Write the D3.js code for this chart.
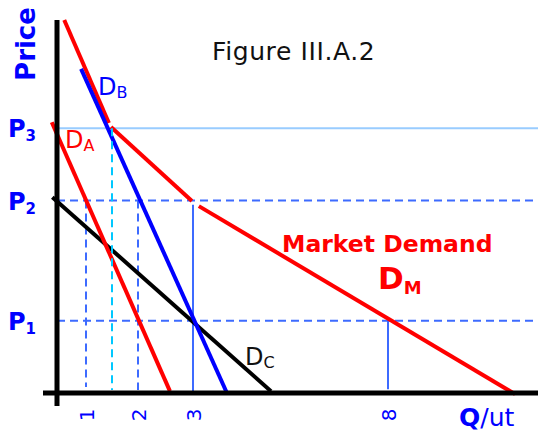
<!DOCTYPE html>
<html>
<head>
<meta charset="utf-8">
<script src="https://cdn.jsdelivr.net/npm/d3@7"></script>
<style>
  html, body { margin: 0; padding: 0; background: #fff; }
  svg { display: block; }
</style>
</head>
<body>
<div id="chart"></div>
<script>
// ---------- DATA ----------
const title = "Figure III.A.2";
const xTickValues = [1, 2, 3, 8];              // labelled quantities
const quantityBreaks = [0, 1, 2, 3, 8];       // schematic (non-uniform) quantity axis
const priceLabels = ["P1", "P2", "P3"];
const priceValues = [1.94, 5.16, 7.10];
const xMaxQ = 11.85;
const yMaxP = 10;

// individual demand curves: [quantity, price] endpoints
const demandA = [[-0.18, 7.26], [2.58, 0.05]];
const demandB = [[0.83, 8.69], [3.87, 0.0]];
const demandC = [[-0.16, 5.25], [5.0, 0.05]];
// market demand, drawn as three kinked segments
const marketDemand = [
  [[0.25, 10.0], [1.44, 7.24]],
  [[1.48, 7.13], [2.98, 5.15]],
  [[3.15, 5.01], [11.26, -0.03]]
];
// vertical guides: quantity, top price, bottom price, kind
const verticalGuides = [
  {q: 1,   top: 5.16, bottom: 0.16, kind: "dash"},
  {q: 2,   top: 5.16, bottom: 0.08, kind: "dash"},
  {q: 3,   top: 5.05, bottom: 0.0,  kind: "solid"},
  {q: 8,   top: 1.94, bottom: 0.10, kind: "solid"}
];
const cyanGuide = {q: 1.5, top: 7.10, bottom: 0.08};

// ---------- LAYOUT ----------
const W = 538, H = 433;
const svg = d3.select("#chart").append("svg").attr("width", W).attr("height", H);

const x = d3.scaleLinear().domain(quantityBreaks).range([57, 86, 138, 193, 388]);
const y = d3.scaleLinear().domain([0, yMaxP]).range([393, 20]);

const BLUE = "#0000ff", RED = "#ff0000", GUIDE = "#3d6bff", CYAN = "#00c8ff", LIGHT = "#99ccff";
const line = d3.line().x(d => x(d[0])).y(d => y(d[1]));

// horizontal guides
const hg = svg.append("g");
priceValues.forEach((p, i) => {
  const isTop = i === 2;
  hg.append("path")
    .attr("d", line([[0, p], [xMaxQ, p]]))
    .attr("stroke", isTop ? LIGHT : GUIDE)
    .attr("stroke-width", 2)
    .attr("stroke-dasharray", isTop ? null : "8,5")
    .attr("fill", "none");
});
// vertical guides
verticalGuides.forEach(g => {
  hg.append("path")
    .attr("d", line([[g.q, g.top], [g.q, g.bottom]]))
    .attr("stroke", GUIDE)
    .attr("stroke-width", 2)
    .attr("stroke-dasharray", g.kind === "dash" ? "8,5" : null)
    .attr("fill", "none");
});

// demand curves
const curves = svg.append("g").attr("fill", "none").attr("stroke-width", 4).attr("stroke-linecap", "butt");
curves.append("path").attr("d", line(demandC)).attr("stroke", "#000");
curves.append("path").attr("d", line(demandA)).attr("stroke", RED);
marketDemand.forEach(seg => curves.append("path").attr("d", line(seg)).attr("stroke", RED));
curves.append("path").attr("d", line(demandB)).attr("stroke", BLUE);

// cyan guide on top
svg.append("path")
  .attr("d", line([[cyanGuide.q, cyanGuide.top], [cyanGuide.q, cyanGuide.bottom]]))
  .attr("stroke", CYAN).attr("stroke-width", 2).attr("stroke-dasharray", "8,5").attr("fill", "none");

// axes frame
svg.append("line").attr("x1", x(0)).attr("x2", x(0)).attr("y1", y(yMaxP)).attr("y2", 406)
  .attr("stroke", "#000").attr("stroke-width", 5);
svg.append("line").attr("x1", 43).attr("x2", W).attr("y1", y(0)).attr("y2", y(0))
  .attr("stroke", "#000").attr("stroke-width", 5);

// x tick labels (rotated)
const xAxis = svg.append("g").attr("transform", `translate(0,${y(0)})`)
  .call(d3.axisBottom(x).tickValues(xTickValues).tickSize(0).tickFormat(d3.format("d")));
xAxis.select(".domain").remove();
xAxis.selectAll("text")
  .attr("font-family", "DejaVu Sans").attr("font-size", 20).attr("fill", BLUE)
  .attr("transform", "rotate(-90)")
  .attr("text-anchor", "middle")
  .attr("x", -22).attr("y", 0).attr("dy", "0.36em");

// price labels
const font = "DejaVu Sans";
priceValues.forEach((p, i) => {
  const t = svg.append("text").attr("x", 8).attr("y", y(p) + 9)
    .attr("font-family", font).attr("font-weight", "bold").attr("font-size", 24).attr("fill", BLUE);
  t.append("tspan").text(priceLabels[i][0]);
  t.append("tspan").attr("font-size", 15).attr("dy", 4).text(priceLabels[i].slice(1));
});

// axis titles
svg.append("text").attr("transform", "translate(35,44) rotate(-90)")
  .attr("text-anchor", "middle").attr("font-family", font).attr("font-weight", "bold")
  .attr("font-size", 26).attr("fill", BLUE).text("Price");
const q = svg.append("text").attr("x", 459).attr("y", 426)
  .attr("font-family", font).attr("font-size", 25).attr("fill", BLUE);
q.append("tspan").attr("font-weight", "bold").text("Q");
q.append("tspan").text("/ut");

// title
svg.append("text").attr("x", 212).attr("y", 60).attr("font-family", font)
  .attr("font-size", 25).attr("letter-spacing", 0.6).attr("fill", "#111").text(title);

// curve labels
function subLabel(xp, yp, main, sub, color, size, subSize, weight, dy) {
  const t = svg.append("text").attr("x", xp).attr("y", yp).attr("font-family", font)
    .attr("font-size", size).attr("font-weight", weight).attr("fill", color);
  t.append("tspan").text(main);
  t.append("tspan").attr("font-size", subSize).attr("dy", dy).text(sub);
}
subLabel(98, 95, "D", "B", BLUE, 24, 16, "normal", 3);
subLabel(65, 148, "D", "A", RED, 24, 16, "normal", 3);
subLabel(245, 365, "D", "C", "#111", 24, 16, "normal", 3);
svg.append("text").attr("x", 282).attr("y", 252).attr("font-family", font)
  .attr("font-weight", "bold").attr("font-size", 23.5).attr("fill", RED).text("Market Demand");
subLabel(378, 289, "D", "M", RED, 31, 18, "bold", 5);
</script>
</body>
</html>
